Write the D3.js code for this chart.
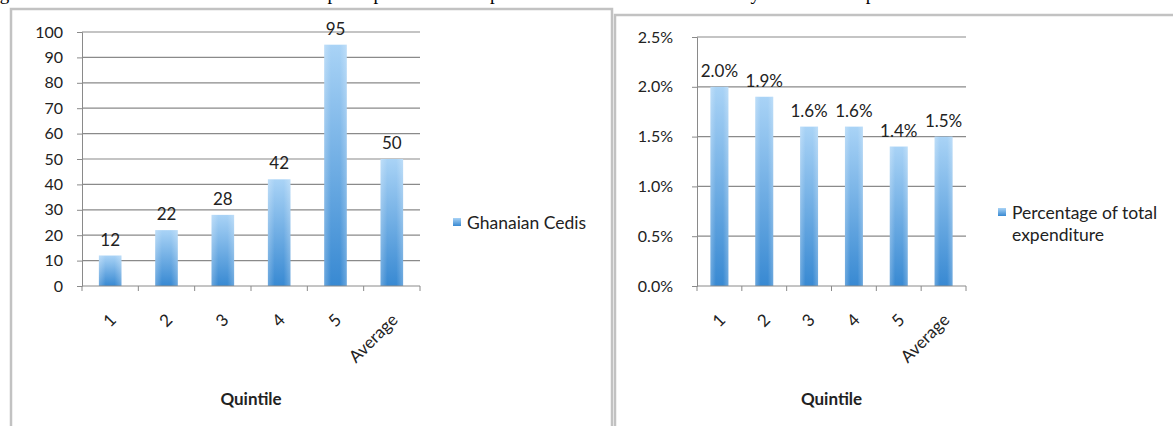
<!DOCTYPE html>
<html>
<head>
<meta charset="utf-8">
<script src="https://cdn.jsdelivr.net/npm/d3@7"></script>
<style>
    body { margin: 0; background: #fff; }
    svg { display: block; }
    text { font-family: Lato, "Open Sans", sans-serif; fill: #222; }
    .caption { font-family: "Liberation Serif", "DejaVu Serif", serif; fill: #000; }
</style>
</head>
<body>
<div id="chart"></div>
<script>
// values
const quintiles = ['1', '2', '3', '4', '5', 'Average'];
const cedisValues = [12, 22, 28, 42, 95, 50];
const shareValues = [0.020, 0.019, 0.016, 0.016, 0.014, 0.015];
const cedisTicks = [0, 10, 20, 30, 40, 50, 60, 70, 80, 90, 100];
const shareTicks = [0, 0.005, 0.010, 0.015, 0.020, 0.025];
const cedisLegend = ['Ghanaian Cedis'];
const shareLegend = ['Percentage of total', 'expenditure'];
const axisTitle = 'Quintile';
const captionText = 'Figure 5: Annual health costs in cedis and as per capita share of expenditure with the mean over all by size of the expenditure level';

const W = 1173, H = 426;

const svg = d3.select('#chart').append('svg')
    .attr('width', W)
    .attr('height', H);

const defs = svg.append('defs');
const grad = defs.append('linearGradient')
    .attr('id', 'barGrad')
    .attr('x1', 0).attr('y1', 0).attr('x2', 0).attr('y2', 1);
grad.append('stop').attr('offset', '0%').attr('stop-color', '#a9d3f6');
grad.append('stop').attr('offset', '100%').attr('stop-color', '#3889d2');

const hGrad = defs.append('linearGradient')
    .attr('id', 'barShade')
    .attr('x1', 0).attr('y1', 0).attr('x2', 1).attr('y2', 0);
hGrad.append('stop').attr('offset', '0%').attr('stop-color', '#fff').attr('stop-opacity', 0.25);
hGrad.append('stop').attr('offset', '30%').attr('stop-color', '#fff').attr('stop-opacity', 0);
hGrad.append('stop').attr('offset', '70%').attr('stop-color', '#fff').attr('stop-opacity', 0);
hGrad.append('stop').attr('offset', '100%').attr('stop-color', '#fff').attr('stop-opacity', 0.25);

// caption line above the picture, only the descenders show
svg.append('text')
    .attr('class', 'caption')
    .attr('x', -16)
    .attr('y', 0)
    .style('font-size', '19px')
    .text(captionText);

class BarPanel {

    constructor(opts) {
        this.values = opts.values;
        this.ticks = opts.ticks;
        this.box = opts.box;
        this.plot = opts.plot;
        this.format = opts.format;
        this.legend = opts.legend;
        this.legendPos = opts.legendPos;
        this.labelPad = opts.labelPad;
        this.draw();
    }

    draw() {
        this.g = svg.append('g');

        // panel frame
        this.g.append('rect')
            .attr('x', this.box.x)
            .attr('y', this.box.y)
            .attr('width', this.box.w)
            .attr('height', this.box.h)
            .attr('fill', '#fff')
            .attr('stroke', '#c2c2c2')
            .attr('stroke-width', 2.5);

        this.createScales();
        this.addGrid();
        this.addBars();
        this.addAxes();
        this.addLegend();
    }

    createScales() {
        this.xScale = d3.scaleBand()
            .domain(quintiles)
            .range([this.plot.left, this.plot.right])
            .paddingInner(0.6)
            .paddingOuter(0.3);

        this.yScale = d3.scaleLinear()
            .domain(d3.extent(this.ticks))
            .range([this.plot.bottom, this.plot.top]);
    }

    addGrid() {
        this.g.selectAll('.grid')
            .data(this.ticks.slice(1))
            .enter()
            .append('line')
            .attr('class', 'grid')
            .attr('x1', this.plot.left)
            .attr('x2', this.plot.right)
            .attr('y1', d => this.yScale(d))
            .attr('y2', d => this.yScale(d))
            .attr('stroke', '#8a8a8a')
            .attr('stroke-width', 1.2);
    }

    addBars() {
        const rows = quintiles.map((q, i) => ({ q: q, v: this.values[i] }));

        const bars = this.g.selectAll('.bar')
            .data(rows)
            .enter();

        bars.append('rect')
            .attr('class', 'bar')
            .attr('x', d => this.xScale(d.q))
            .attr('width', this.xScale.bandwidth())
            .attr('y', d => this.yScale(d.v))
            .attr('height', d => this.yScale(0) - this.yScale(d.v))
            .attr('fill', 'url(#barGrad)');

        bars.append('rect')
            .attr('x', d => this.xScale(d.q))
            .attr('width', this.xScale.bandwidth())
            .attr('y', d => this.yScale(d.v))
            .attr('height', d => this.yScale(0) - this.yScale(d.v))
            .attr('fill', 'url(#barShade)');

        bars.append('text')
            .attr('x', d => this.xScale(d.q) + this.xScale.bandwidth() / 2)
            .attr('y', d => this.yScale(d.v) - 10)
            .attr('text-anchor', 'middle')
            .style('font-size', '17px')
            .text(d => this.format(d.v));
    }

    addAxes() {
        const yAxis = d3.axisLeft(this.yScale)
            .tickValues(this.ticks)
            .tickFormat(this.format)
            .tickSize(5)
            .tickPadding(this.labelPad);

        const yg = this.g.append('g')
            .attr('transform', `translate(${this.plot.left},0)`)
            .call(yAxis);
        yg.selectAll('line, path').attr('stroke', '#8a8a8a');
        yg.selectAll('text')
            .style('font-size', '16px')
            .style('font-family', 'Lato')
            .attr('fill', '#333');

        // x axis line and ticks on the band edges
        const step = this.xScale.step();
        const edges = d3.range(quintiles.length + 1)
            .map(i => this.plot.left + i * step);
        const y0 = this.yScale(0);

        this.g.append('line')
            .attr('x1', this.plot.left)
            .attr('x2', this.plot.right)
            .attr('y1', y0)
            .attr('y2', y0)
            .attr('stroke', '#8a8a8a');

        this.g.selectAll('.xtick')
            .data(edges)
            .enter()
            .append('line')
            .attr('class', 'xtick')
            .attr('x1', d => d).attr('x2', d => d)
            .attr('y1', y0).attr('y2', y0 + 5)
            .attr('stroke', '#8a8a8a');

        this.g.selectAll('.xlabel')
            .data(quintiles)
            .enter()
            .append('text')
            .attr('class', 'xlabel')
            .attr('text-anchor', 'end')
            .attr('transform', d => {
                const cx = this.xScale(d) + this.xScale.bandwidth() / 2;
                return `translate(${cx + 7},${y0 + 35}) rotate(-45)`;
            })
            .style('font-size', '17px')
            .attr('fill', '#333')
            .text(d => d);

        this.g.append('text')
            .attr('x', (this.plot.left + this.plot.right) / 2)
            .attr('y', 405)
            .attr('text-anchor', 'middle')
            .style('font-size', '17px')
            .style('font-weight', 'bold')
            .text(axisTitle);
    }

    addLegend() {
        const lp = this.legendPos;
        this.g.append('rect')
            .attr('x', lp.x)
            .attr('y', lp.y - 5)
            .attr('width', 8)
            .attr('height', 8)
            .attr('fill', 'url(#barGrad)');

        this.g.selectAll('.legend')
            .data(this.legend)
            .enter()
            .append('text')
            .attr('class', 'legend')
            .attr('x', lp.x + 14)
            .attr('y', (d, i) => lp.y + 6 + i * 22)
            .style('font-size', '17.5px')
            .text(d => d);
    }
}

new BarPanel({
    values: cedisValues,
    ticks: cedisTicks,
    format: d3.format('d'),
    box: { x: 11, y: 9, w: 601, h: 440 },
    plot: { left: 82, right: 420, top: 32, bottom: 286 },
    legend: cedisLegend,
    legendPos: { x: 453, y: 223 },
    labelPad: 14
});

new BarPanel({
    values: shareValues,
    ticks: shareTicks,
    format: d3.format('.1%'),
    box: { x: 615, y: 15, w: 580, h: 440 },
    plot: { left: 697, right: 966, top: 37, bottom: 286 },
    legend: shareLegend,
    legendPos: { x: 998, y: 213 },
    labelPad: 19
});
</script>
</body>
</html>
